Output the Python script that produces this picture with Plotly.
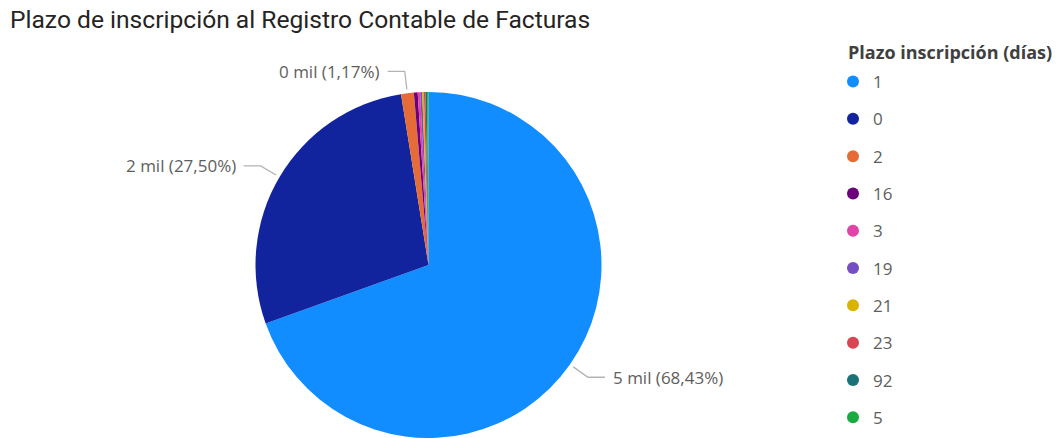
import math
import plotly.graph_objects as go

# ---- data ----
categories = ["1", "0", "2", "16", "3", "19", "21", "23", "92", "5"]
values = [4790, 1925, 82, 24, 16, 13, 11, 10, 10, 9]
colors = ["#118DFF", "#12239E", "#E66C37", "#6B007B", "#E044A7",
          "#744EC2", "#D9B300", "#D64550", "#197278", "#1AAB40"]
label_texts = {"1": "5 mil (68,43%)", "0": "2 mil (27,50%)", "2": "0 mil (1,17%)"}
title_text = "Plazo de inscripción al Registro Contable de Facturas"
legend_title = "Plazo inscripción (días)"

# ---- layout geometry (pixels) ----
W, H = 1059, 438
cx, cy_top, r = 428.5, 265.0, 173.0   # pie center (from top) and radius

fig = go.Figure()
fig.add_trace(go.Pie(
    labels=categories, values=values, sort=False, direction="clockwise",
    rotation=0, marker=dict(colors=colors, line=dict(width=0)),
    textinfo="none", hoverinfo="label+value+percent", showlegend=False,
    domain=dict(x=[(cx - r) / W, (cx + r) / W], y=[0, 1 - (cy_top - r) / H]),
))

# legend entries as circle markers
for cat, col in zip(categories, colors):
    fig.add_trace(go.Scatter(x=[None], y=[None], mode="markers", name=cat,
                             legendgroup=cat,
                             marker=dict(color=col, size=14, symbol="circle")))

def px_to_paper(x, y):
    return x / W, 1 - y / H

total = sum(values)
cum = 0.0
shapes, annotations = [], []
for cat, v in zip(categories, values):
    mid = (cum + v / 2) / total * 2 * math.pi
    cum += v
    if cat not in label_texts:
        continue
    s, c = math.sin(mid), math.cos(mid)
    p1 = (cx + (r + 4) * s, cy_top - (r + 4) * c)
    p2 = (cx + (r + 22) * s, cy_top - (r + 22) * c)
    side = 1 if s > 0 else -1
    p3 = (p2[0] + side * 17, p2[1])
    pts = [px_to_paper(*p) for p in (p1, p2, p3)]
    path = "M {} {} L {} {} L {} {}".format(pts[0][0], pts[0][1], pts[1][0], pts[1][1], pts[2][0], pts[2][1])
    shapes.append(dict(type="path", path=path, xref="paper", yref="paper",
                       line=dict(color="#B3B3B3", width=1.3)))
    lx, ly = px_to_paper(p3[0] + side * 6, p3[1])
    annotations.append(dict(text=label_texts[cat], x=lx, y=ly, xref="paper", yref="paper",
                            xanchor="left" if side > 0 else "right", yanchor="middle",
                            showarrow=False,
                            font=dict(family="Open Sans", size=17, color="#605E5C")))

annotations.append(dict(text="<b>" + legend_title + "</b>", x=846 / W, y=1 - 52 / H,
                        xref="paper", yref="paper", xanchor="left", yanchor="middle",
                        showarrow=False,
                        font=dict(family="Open Sans", size=18, color="#404040")))

fig.update_layout(
    width=W, height=H,
    margin=dict(l=0, r=0, t=0, b=0),
    paper_bgcolor="white", plot_bgcolor="white",
    title=dict(text=title_text, x=10 / W, xanchor="left", xref="paper",
               y=1 - 19 / H, yanchor="middle", yref="container",
               font=dict(family="Roboto", size=24.6, color="#252423")),
    xaxis=dict(visible=False), yaxis=dict(visible=False),
    legend=dict(x=833 / W, y=1 - 64 / H, xanchor="left", yanchor="top",
                traceorder="grouped", tracegroupgap=12.2,
                font=dict(family="Open Sans", size=17, color="#605E5C"),
                itemsizing="constant", bgcolor="rgba(0,0,0,0)"),
    shapes=shapes, annotations=annotations,
)

fig.write_html("out.html", config={"displayModeBar": False},
               post_script="document.body.style.margin='0';")
